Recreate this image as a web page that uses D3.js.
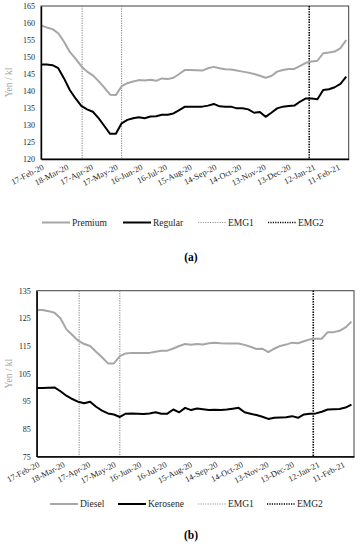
<!DOCTYPE html>
<html>
<head>
<meta charset="utf-8">
<script src="https://cdn.jsdelivr.net/npm/d3@7"></script>
<style>
  html, body { margin: 0; padding: 0; background: #fff; }
  svg { display: block; }
  text { font-family: "Liberation Serif", "Times New Roman", serif; }
</style>
</head>
<body>
<svg id="chart" width="364" height="550"></svg>
<script>
// ---------- DATA ----------
const startDate = "2020-02-17";   // first weekly observation (Monday)
const endDate = "2021-02-22";     // last weekly observation
const axisEnd = "2021-02-25";     // end of the date axis

const tickLabels = ["17-Feb-20","18-Mar-20","17-Apr-20","17-May-20","16-Jun-20","16-Jul-20",
  "15-Aug-20","14-Sep-20","14-Oct-20","13-Nov-20","13-Dec-20","12-Jan-21","11-Feb-21"];

const emg1Dates = ["2020-04-07", "2020-05-25"];
const emg2Dates = ["2021-01-08"];

const premium = [159.3,158.7,158.2,157.0,154.5,151.5,149.5,147.3,145.7,144.6,142.9,141.0,138.9,138.8,
  141.4,142.3,142.8,143.2,143.1,143.3,143.0,143.7,143.5,143.9,145.0,146.2,146.2,146.1,146.0,146.7,
  147.1,146.7,146.4,146.3,146.0,145.7,145.4,145.0,144.5,143.9,144.4,145.7,146.2,146.5,146.5,147.4,
  148.3,148.7,148.9,151.1,151.3,151.6,152.6,155.0];
const regular = [147.8,147.8,147.6,146.7,143.7,140.3,137.8,135.6,134.6,133.9,132.0,129.7,127.4,127.4,
  130.5,131.5,132.0,132.3,132.0,132.5,132.6,133.0,133.0,133.4,134.4,135.4,135.4,135.4,135.4,135.7,
  136.2,135.5,135.4,135.4,134.9,134.9,134.6,133.6,133.8,132.4,133.6,134.9,135.4,135.6,135.7,136.9,
  137.8,137.8,137.6,140.3,140.5,141.1,142.1,144.2];
const diesel = [128.0,128.0,127.6,127.0,125.0,121.0,119.0,116.9,115.7,115.0,112.9,110.9,108.7,108.7,
  111.3,112.3,112.5,112.5,112.5,112.5,112.9,113.3,113.3,114.1,115.0,115.7,115.4,115.7,115.5,116.0,
  116.2,116.0,115.9,115.9,115.9,115.4,114.7,113.9,114.0,112.8,114.0,115.0,115.5,116.2,116.0,116.7,
  117.4,117.6,117.6,120.0,120.0,120.5,121.7,123.8];
const kerosene = [99.8,99.8,99.9,100.0,98.6,97.0,95.8,94.8,94.3,94.8,93.0,91.6,90.6,90.2,
  89.3,90.5,90.6,90.5,90.4,90.6,91.0,90.5,90.5,92.0,91.0,92.6,91.8,92.4,92.1,91.8,
  91.9,91.8,92.0,92.3,92.6,91.0,90.5,90.0,89.4,88.6,89.0,89.1,89.2,89.6,89.0,90.2,
  90.5,90.6,91.2,92.0,92.1,92.2,92.7,93.8];

const yTicksA = [120,125,130,135,140,145,150,155,160,165];
const yTicksB = [75,85,95,105,115,125,135];

// ---------- HELPERS ----------
const parse = d3.timeParse("%Y-%m-%d");
const parseTick = d3.timeParse("%d-%b-%y");
const weeks = d3.timeMonday.range(parse(startDate), d3.timeDay.offset(parse(endDate), 1));
const svg = d3.select("#chart");

const GREY = "#a6a6a6";

function drawPanel(cfg) {
  const g = svg.append("g");
  const x = d3.scaleTime().domain([parse(startDate), parse(axisEnd)]).range([cfg.left, cfg.right]);
  const y = d3.scaleLinear().domain(cfg.yDomain).range([cfg.bottom, cfg.top]);

  // plot frame
  g.append("rect").attr("x", cfg.left).attr("y", cfg.top)
    .attr("width", cfg.right - cfg.left).attr("height", cfg.bottom - cfg.top)
    .attr("fill", "none").attr("stroke", "#404040").attr("stroke-width", 1);

  // emergency lines
  emg1Dates.forEach(d => {
    g.append("line").attr("x1", x(parse(d))).attr("x2", x(parse(d)))
      .attr("y1", cfg.top).attr("y2", cfg.bottom)
      .attr("stroke", "#7f7f7f").attr("stroke-width", 1).attr("stroke-dasharray", "1.2,1.2");
  });
  emg2Dates.forEach(d => {
    g.append("line").attr("x1", x(parse(d))).attr("x2", x(parse(d)))
      .attr("y1", cfg.top).attr("y2", cfg.bottom)
      .attr("stroke", "#000").attr("stroke-width", 1.6).attr("stroke-dasharray", "1.4,1.2");
  });

  // series
  const line = d3.line().x((d, i) => x(weeks[i])).y(d => y(d));
  g.append("path").datum(cfg.s1).attr("d", line)
    .attr("fill", "none").attr("stroke", GREY).attr("stroke-width", 2).attr("stroke-linejoin", "round");
  g.append("path").datum(cfg.s2).attr("d", line)
    .attr("fill", "none").attr("stroke", "#000").attr("stroke-width", 2).attr("stroke-linejoin", "round");

  // y axis
  const ya = g.append("g").attr("transform", `translate(${cfg.left},0)`)
    .call(d3.axisLeft(y).tickValues(cfg.yTicks).tickSize(0).tickPadding(6));
  ya.select(".domain").attr("stroke", "#000").attr("stroke-width", 1.4);
  ya.selectAll("text").attr("font-family", "Liberation Serif").attr("font-size", 8).attr("fill", "#262626");

  // x axis
  const tickDates = tickLabels.map(t => parseTick(t));
  const xa = g.append("g").attr("transform", `translate(0,${cfg.bottom})`)
    .call(d3.axisBottom(x).tickValues(tickDates).tickSize(0).tickFormat((d, i) => tickLabels[i]));
  xa.select(".domain").attr("stroke", "#000").attr("stroke-width", 1.4);
  xa.selectAll("text").attr("font-family", "Liberation Serif").attr("font-size", 8.5).attr("fill", "#262626")
    .attr("text-anchor", "end").attr("dy", null).attr("y", 0)
    .attr("transform", "translate(3,10) rotate(-27)");

  // y title
  g.append("text").attr("transform", `translate(${cfg.titleX},${(cfg.top + cfg.bottom) / 2}) rotate(-90)`)
    .attr("text-anchor", "middle").attr("font-size", 9.5).attr("fill", GREY).text("Yen / kl");

  // legend
  const leg = g.append("g").attr("transform", `translate(0,${cfg.legendY})`);
  cfg.legend.forEach(it => {
    const l = leg.append("line").attr("x1", it.x).attr("x2", it.x + 28).attr("y1", 0).attr("y2", 0);
    if (it.type === "s1") l.attr("stroke", GREY).attr("stroke-width", 2);
    if (it.type === "s2") l.attr("stroke", "#000").attr("stroke-width", 2);
    if (it.type === "e1") l.attr("stroke", "#9a9a9a").attr("stroke-width", 1).attr("stroke-dasharray", "1.2,1.2");
    if (it.type === "e2") l.attr("stroke", "#000").attr("stroke-width", 1.4).attr("stroke-dasharray", "1.2,1.2");
    leg.append("text").attr("x", it.x + 30).attr("y", 3).attr("font-size", 9.5).attr("fill", "#262626").text(it.label);
  });

  // panel label
  g.append("text").attr("x", 191).attr("y", cfg.labelY).attr("text-anchor", "middle")
    .attr("font-family", "Noto Sans").attr("font-weight", "bold").attr("font-size", 11.5)
    .attr("fill", "#000").text(cfg.label);
}

drawPanel({
  left: 41, right: 348.7, top: 6, bottom: 159, yDomain: [120, 165], yTicks: yTicksA,
  s1: premium, s2: regular, titleX: 12, legendY: 222.5, labelY: 261, label: "(a)",
  legend: [
    {x: 42, type: "s1", label: "Premium"},
    {x: 123, type: "s2", label: "Regular"},
    {x: 198, type: "e1", label: "EMG1"},
    {x: 268, type: "e2", label: "EMG2"}
  ]
});

drawPanel({
  left: 36.7, right: 354, top: 290.7, bottom: 456.5, yDomain: [75, 135], yTicks: yTicksB,
  s1: diesel, s2: kerosene, titleX: 12, legendY: 504, labelY: 539, label: "(b)",
  legend: [
    {x: 50, type: "s1", label: "Diesel"},
    {x: 118, type: "s2", label: "Kerosene"},
    {x: 198, type: "e1", label: "EMG1"},
    {x: 267, type: "e2", label: "EMG2"}
  ]
});
</script>
</body>
</html>
